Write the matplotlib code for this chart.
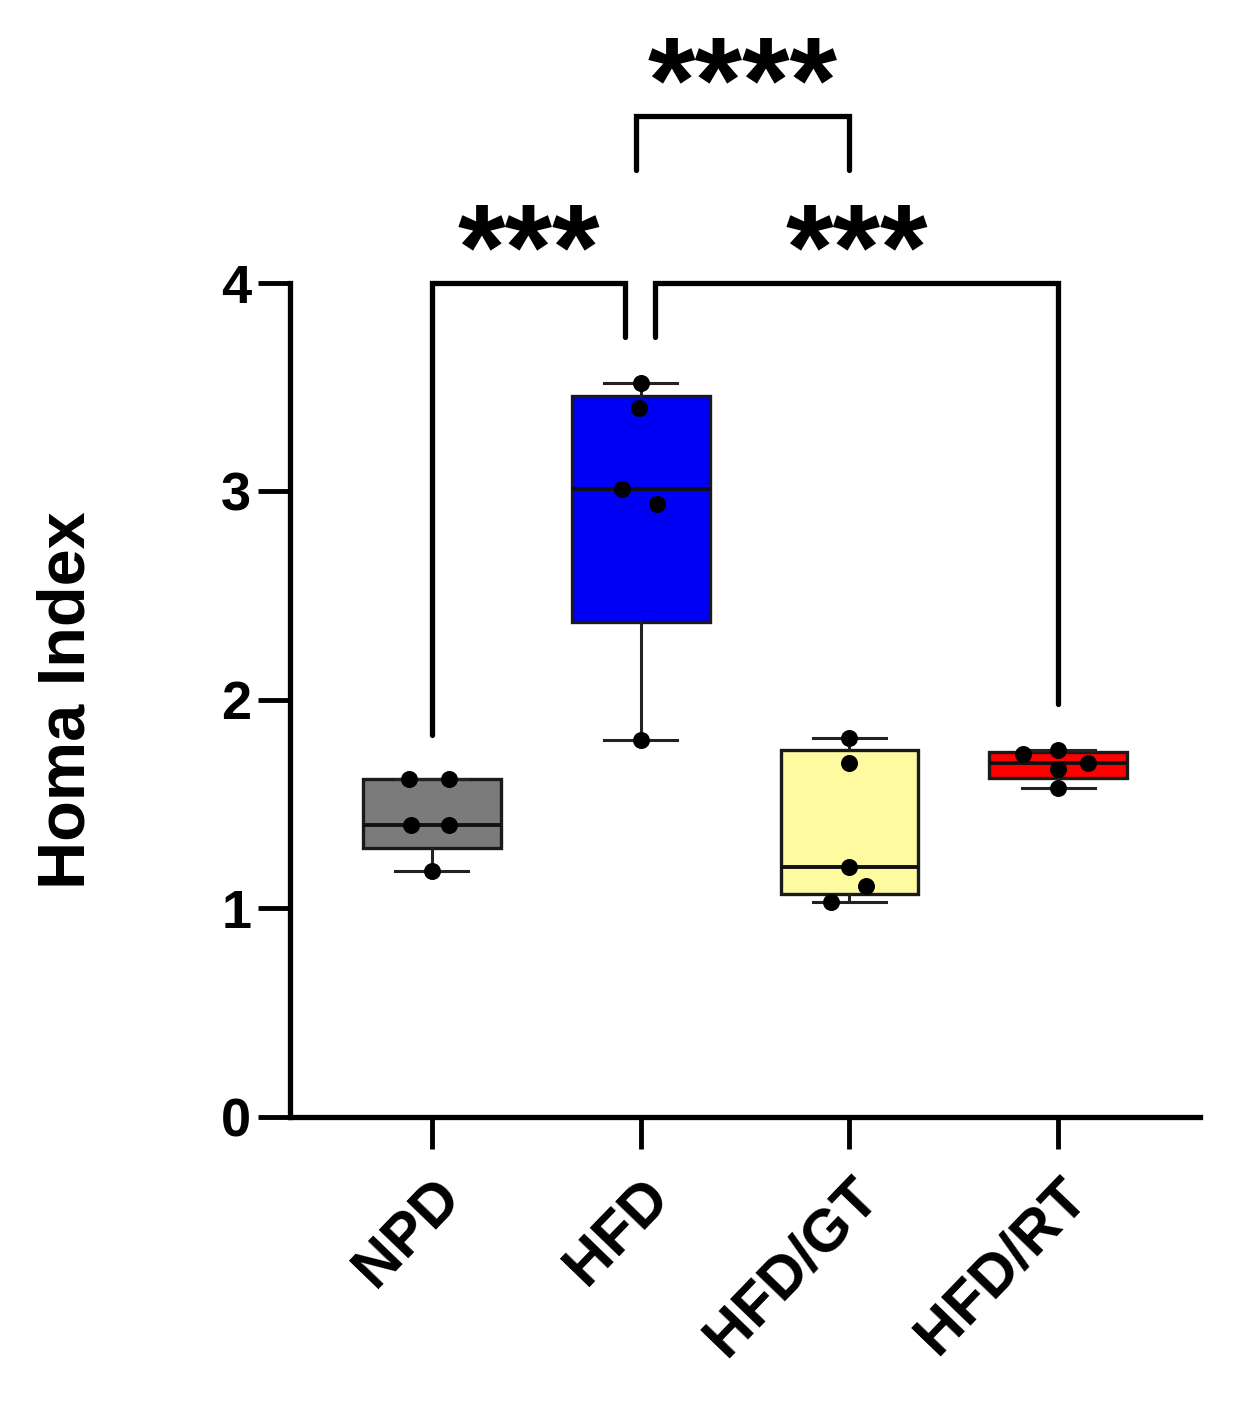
import numpy as np
import matplotlib
matplotlib.use("Agg")
import matplotlib.pyplot as plt
from matplotlib.transforms import ScaledTranslation

plt.rcParams['font.family'] = ['Liberation Sans', 'DejaVu Sans']
plt.rcParams['font.weight'] = 'bold'

groups = ["NPD", "HFD", "HFD/GT", "HFD/RT"]
npd = [1.18, 1.40, 1.40, 1.62, 1.62]
hfd = [1.81, 2.94, 3.01, 3.40, 3.52]
hfd_gt = [1.03, 1.11, 1.20, 1.70, 1.82]
hfd_rt = [1.58, 1.67, 1.70, 1.74, 1.76]
values = [npd, hfd, hfd_gt, hfd_rt]
box_colors = ["#7b7b7b", "#0000f5", "#fdfa9f", "#ff0000"]
# horizontal jitter of the dots within each group (layout only)
jitter = [[0.0, -0.10, 0.08, -0.11, 0.08],
          [0.0, 0.08, -0.09, -0.01, 0.0],
          [-0.09, 0.08, 0.0, 0.0, 0.0],
          [0.0, 0.0, 0.145, -0.17, 0.0]]
y_ticks = [0, 1, 2, 3, 4]

fig = plt.figure(figsize=(12.41, 14.08), dpi=100)
ax = fig.add_axes([0.2337, 0.2067, 0.967 - 0.2337, 0.799 - 0.2067])

stats = []
for i, v in enumerate(values):
    v = np.asarray(v)
    q1, med, q3 = np.percentile(v, [25, 50, 75], method="weibull")
    stats.append(dict(med=med, q1=q1, q3=q3, whislo=v.min(), whishi=v.max(),
                      fliers=[], label=groups[i]))

pos = np.arange(len(groups))
bp = ax.bxp(stats, positions=pos, widths=0.66, patch_artist=True,
            showfliers=False,
            boxprops=dict(linewidth=2.4, edgecolor="#1a1a1a"),
            medianprops=dict(color="#111111", linewidth=2.8),
            whiskerprops=dict(color="#222222", linewidth=2.2),
            capprops=dict(color="#222222", linewidth=2.2),
            capwidths=0.35, zorder=2)
for patch, c in zip(bp["boxes"], box_colors):
    patch.set_facecolor(c)

for i, v in enumerate(values):
    ax.scatter(pos[i] + np.asarray(jitter[i]), v, s=150, color="black",
               zorder=4, linewidths=0)

ax.set_xlim(-0.68, 3.68)
ax.set_ylim(0, 4)
ax.set_yticks(y_ticks)
ax.set_xticks(pos)
ax.set_xticklabels(groups, rotation=46, ha="right", rotation_mode="anchor",
                   fontsize=43, fontweight="bold")
off = ScaledTranslation(-20 / 100, -6 / 100, fig.dpi_scale_trans)
for lab in ax.get_xticklabels():
    lab.set_transform(lab.get_transform() + off)
ax.tick_params(axis="y", labelsize=39, width=3.5, length=23, pad=5)
ax.tick_params(axis="x", width=3.5, length=23, pad=14)
for lab in ax.get_yticklabels():
    lab.set_fontweight("bold")
ax.set_ylabel("Homa Index", fontsize=48, fontweight="bold", labelpad=88)
for s in ["top", "right"]:
    ax.spines[s].set_visible(False)
for s in ["left", "bottom"]:
    ax.spines[s].set_linewidth(3.8)

# significance brackets
lw = 3.8
def bracket(x1, x2, ytop, yl, yr, text, ytext):
    ax.plot([x1, x1, x2, x2], [yl, ytop, ytop, yr], color="black", lw=lw,
            clip_on=False, solid_joinstyle="miter", solid_capstyle="round")
    ax.text((x1 + x2) / 2, ytext, text, ha="center", va="center",
            fontsize=88, fontweight="bold", clip_on=False)

bracket(0.0, 0.925, 4.0, 1.83, 3.74, "***", 4.13)
bracket(1.07, 3.0, 4.0, 3.74, 1.98, "***", 4.13)
bracket(0.98, 2.0, 4.80, 4.54, 4.54, "****", 4.93)

fig.savefig("out.png", dpi=100)
